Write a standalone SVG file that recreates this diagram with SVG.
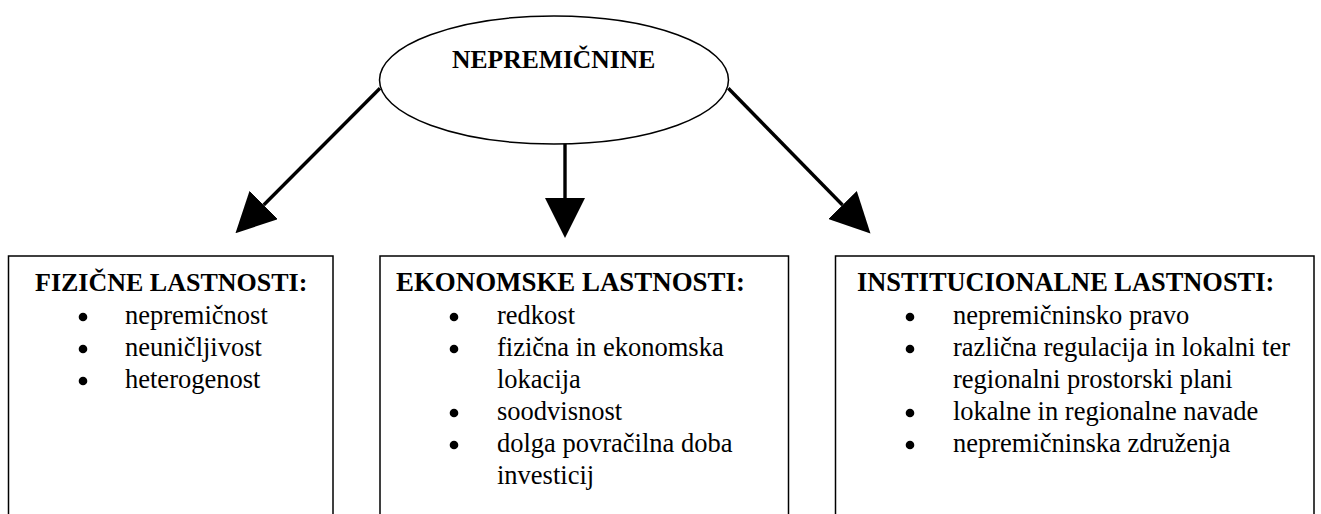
<svg xmlns="http://www.w3.org/2000/svg" width="1321" height="514" viewBox="0 0 1321 514">
<style>
.shape{fill:#fff;stroke:#000;stroke-width:1.5}
.conn{stroke:#000;stroke-width:3.4;fill:none}
.h{font-family:"Liberation Serif","Times New Roman",serif;font-weight:bold;font-size:26px;fill:#000}
.t{font-family:"Liberation Serif","Times New Roman",serif;font-size:26.5px;fill:#000}
.title{font-family:"Liberation Serif","Times New Roman",serif;font-weight:bold;font-size:25.6px;fill:#000}
.b{fill:#000}
</style>
<defs>
<marker id="ah" markerUnits="userSpaceOnUse" markerWidth="40" markerHeight="40" viewBox="0 0 38 38" refX="0" refY="19" orient="auto">
<path d="M0,0 L38,19 L0,38 Z" fill="#000"/>
</marker>
</defs>
<rect width="1321" height="514" fill="#fff"/>
<g id="connectors">
<line class="conn" x1="380" y1="88.3" x2="263.7" y2="205" marker-end="url(#ah)"/>
<line class="conn" x1="565" y1="141.5" x2="565" y2="198" marker-end="url(#ah)"/>
<line class="conn" x1="728.3" y1="88.3" x2="842.5" y2="205" marker-end="url(#ah)"/>
</g>
<g id="nepremicnine">
<ellipse class="shape" cx="554" cy="80" rx="174.5" ry="64"/>
<text class="title" x="452" y="68">NEPREMIČNINE</text>
</g>
<g id="fizicne">
<rect class="shape" x="8.5" y="256" width="324.5" height="280"/>
<text class="h" x="35" y="291">FIZIČNE LASTNOSTI:</text>
<circle class="b" cx="83" cy="317" r="4.3"/>
<circle class="b" cx="83" cy="349" r="4.3"/>
<circle class="b" cx="83" cy="381" r="4.3"/>
<text class="t" x="125" y="323.5">nepremičnost</text>
<text class="t" x="125" y="355.5">neuničljivost</text>
<text class="t" x="125" y="387.5">heterogenost</text>
</g>
<g id="ekonomske">
<rect class="shape" x="380" y="256" width="408.5" height="280"/>
<text class="h" x="396" y="291" style="font-size:26.9px">EKONOMSKE LASTNOSTI:</text>
<circle class="b" cx="454" cy="317" r="4.3"/>
<circle class="b" cx="454" cy="349" r="4.3"/>
<circle class="b" cx="454" cy="413" r="4.3"/>
<circle class="b" cx="454" cy="445" r="4.3"/>
<text class="t" x="497" y="323.5">redkost</text>
<text class="t" x="497" y="355.5">fizična in ekonomska</text>
<text class="t" x="497" y="387.5">lokacija</text>
<text class="t" x="497" y="419.5">soodvisnost</text>
<text class="t" x="497" y="451.5">dolga povračilna doba</text>
<text class="t" x="497" y="483.5">investicij</text>
</g>
<g id="institucionalne">
<rect class="shape" x="835.5" y="256" width="478.5" height="280"/>
<text class="h" x="857" y="291" style="font-size:26.4px">INSTITUCIONALNE LASTNOSTI:</text>
<circle class="b" cx="910" cy="317" r="4.3"/>
<circle class="b" cx="910" cy="349" r="4.3"/>
<circle class="b" cx="910" cy="413" r="4.3"/>
<circle class="b" cx="910" cy="445" r="4.3"/>
<text class="t" x="953" y="323.5">nepremičninsko pravo</text>
<text class="t" x="953" y="355.5">različna regulacija in lokalni ter</text>
<text class="t" x="953" y="387.5">regionalni prostorski plani</text>
<text class="t" x="953" y="419.5">lokalne in regionalne navade</text>
<text class="t" x="953" y="451.5">nepremičninska združenja</text>
</g>
</svg>
